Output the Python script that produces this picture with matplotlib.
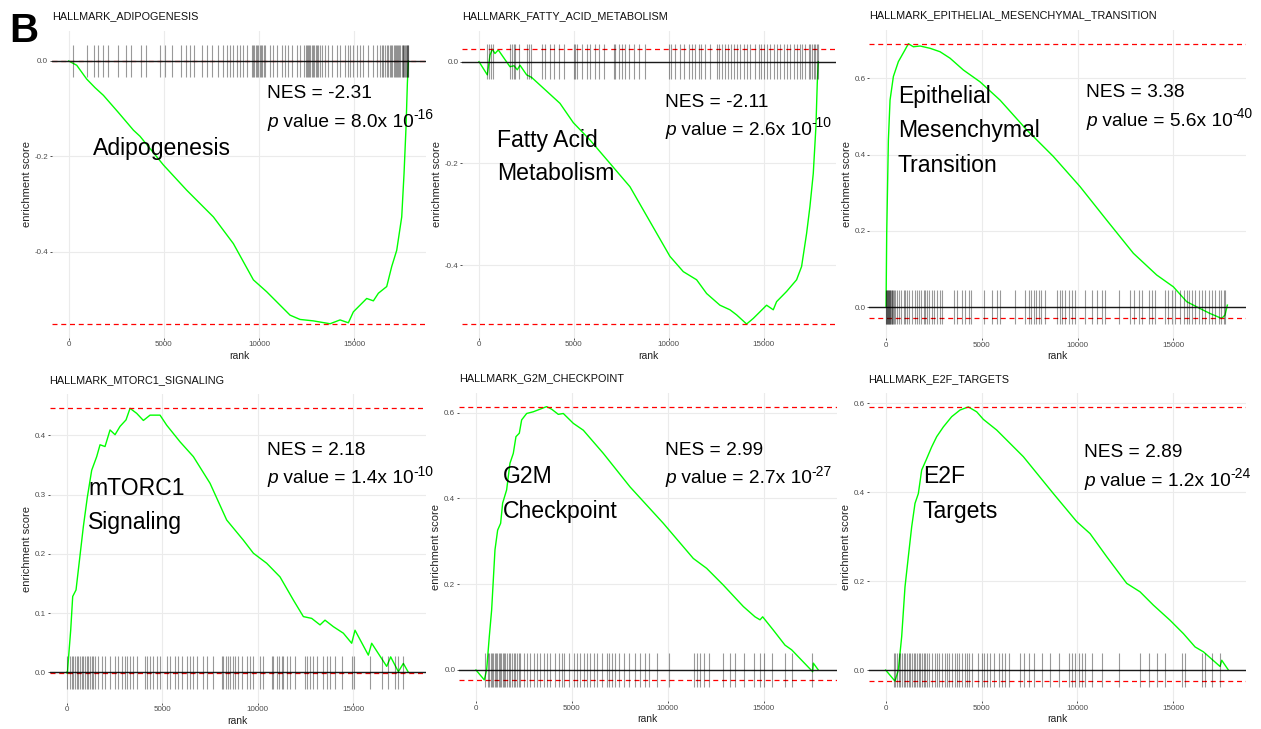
import numpy as np
import matplotlib
matplotlib.use("Agg")
from matplotlib import pyplot as plt
from matplotlib.ticker import MultipleLocator, FormatStrFormatter

W, H = 1261, 729
N_GENES = 17900

# ---- data ------------------------------------------------------------------
titles = ["HALLMARK_ADIPOGENESIS", "HALLMARK_FATTY_ACID_METABOLISM",
          "HALLMARK_EPITHELIAL_MESENCHYMAL_TRANSITION", "HALLMARK_MTORC1_SIGNALING",
          "HALLMARK_G2M_CHECKPOINT", "HALLMARK_E2F_TARGETS"]
names = [["Adipogenesis"], ["Fatty Acid", "Metabolism"],
         ["Epithelial", "Mesenchymal", "Transition"], ["mTORC1", "Signaling"],
         ["G2M", "Checkpoint"], ["E2F", "Targets"]]
nes = ["-2.31", "-2.11", "3.38", "2.18", "2.99", "2.89"]
p_mant = ["8.0", "2.6", "5.6", "1.4", "2.7", "1.2"]
p_exp = ["-16", "-10", "-40", "-10", "-27", "-24"]
y_steps = [0.2, 0.2, 0.2, 0.1, 0.2, 0.2]

# running enrichment score curves (rank, ES)
adipo_rank = [0, 280, 421, 946, 1384, 1823, 2611, 3400, 3750, 4977, 6204, 7606, 8657,
              9709, 10410, 10936, 11637, 12162, 12863, 13740, 14265, 14703, 14966,
              15317, 15667, 16018, 16281, 16719, 16982, 17245, 17508, 17630, 17735,
              17805, 17858]
adipo_es = [0, -0.006, -0.009, -0.038, -0.056, -0.072, -0.108, -0.145, -0.158, -0.218,
            -0.271, -0.327, -0.383, -0.459, -0.484, -0.505, -0.533, -0.542, -0.545,
            -0.551, -0.543, -0.549, -0.526, -0.512, -0.498, -0.503, -0.487, -0.473,
            -0.431, -0.397, -0.327, -0.236, -0.138, -0.047, 0.0]

fatty_rank = [0, 439, 580, 702, 843, 1018, 1633, 1844, 2019, 2160, 2511, 2774, 3389,
              4267, 4970, 5847, 7955, 10062, 10765, 11467, 11994, 12696, 13223, 13574,
              14101, 14452, 15154, 15505, 15681, 16207, 16734, 16997, 17261, 17437,
              17613, 17753, 17823, 17876]
fatty_es = [0, -0.026, 0.013, 0.0244, 0.016, 0.023, -0.010, -0.008, -0.016, -0.007,
            -0.026, -0.031, -0.052, -0.082, -0.120, -0.154, -0.246, -0.383, -0.413,
            -0.429, -0.456, -0.479, -0.488, -0.498, -0.516, -0.505, -0.479, -0.488,
            -0.472, -0.452, -0.429, -0.403, -0.338, -0.285, -0.220, -0.128, -0.043, 0.0]

emt_rank = [0, 35, 122, 209, 383, 644, 992, 1166, 1427, 1775, 2297, 2819, 3342, 4038,
            4908, 5952, 7344, 8737, 10129, 11521, 12914, 14132, 15002, 15698, 16394,
            16917, 17526, 17700, 17822]
emt_es = [0, 0.193, 0.438, 0.543, 0.605, 0.644, 0.675, 0.691, 0.683, 0.685, 0.679,
          0.670, 0.653, 0.622, 0.591, 0.543, 0.465, 0.395, 0.316, 0.228, 0.141, 0.084,
          0.053, 0.014, -0.004, -0.017, -0.030, -0.021, 0.005]

mtor_rank = [0, 35, 87, 209, 314, 488, 628, 872, 1082, 1308, 1570, 1745, 2006, 2268,
             2530, 2791, 3105, 3315, 3664, 4013, 4362, 4885, 5234, 5932, 6629, 7502,
             8374, 9246, 9770, 10468, 11165, 11863, 12387, 12823, 13259, 13520, 13957,
             14480, 14916, 15090, 15788, 15963, 16748, 16957, 17359, 17620, 17882]
mtor_es = [0, -0.002, 0.021, 0.071, 0.128, 0.139, 0.178, 0.246, 0.296, 0.341, 0.364,
           0.384, 0.381, 0.409, 0.401, 0.415, 0.426, 0.4455, 0.437, 0.425, 0.434, 0.434,
           0.417, 0.389, 0.364, 0.319, 0.257, 0.223, 0.201, 0.184, 0.161, 0.122, 0.094,
           0.091, 0.080, 0.088, 0.077, 0.066, 0.049, 0.071, 0.029, 0.049, 0.010, 0.026,
           0.001, 0.015, 0.0]

g2m_rank = [0, 434, 556, 695, 817, 991, 1130, 1286, 1390, 1599, 1773, 1946, 2085, 2259,
            2381, 2642, 2989, 3337, 3684, 3945, 4293, 4553, 5075, 5596, 6639, 8029,
            9767, 11331, 12026, 12895, 13938, 14546, 14807, 14946, 15502, 16110, 16458,
            17553, 17588, 17848]
g2m_es = [0, -0.023, 0.0, 0.078, 0.140, 0.280, 0.326, 0.342, 0.389, 0.420, 0.482,
          0.505, 0.544, 0.552, 0.583, 0.598, 0.602, 0.608, 0.614, 0.608, 0.596, 0.598,
          0.575, 0.559, 0.505, 0.427, 0.342, 0.260, 0.237, 0.198, 0.148, 0.124, 0.117,
          0.124, 0.093, 0.058, 0.047, -0.004, 0.016, 0.0]

e2f_rank = [0, 487, 661, 835, 1008, 1182, 1356, 1530, 1704, 1878, 2104, 2399, 2660,
            3008, 3442, 3877, 4312, 4746, 5094, 5789, 7180, 8745, 9962, 10658, 11527,
            12570, 13265, 13961, 14830, 15525, 16134, 16569, 17438, 17525, 17872]
e2f_es = [0, -0.025, 0.0, 0.075, 0.187, 0.255, 0.322, 0.375, 0.397, 0.450, 0.472,
          0.502, 0.525, 0.547, 0.570, 0.585, 0.592, 0.581, 0.564, 0.540, 0.480, 0.397,
          0.334, 0.307, 0.255, 0.195, 0.176, 0.146, 0.112, 0.082, 0.052, 0.041, 0.008,
          0.022, 0.0]

# ranks of the pathway genes (barcode ticks)
adipo_hits = [240, 980, 1350, 1560, 1790, 2080, 2610, 3010, 3280, 3780, 4050, 4800, 5060,
              5450, 5900, 6150, 6380, 6600, 6990, 7250, 7520, 7870, 8130, 8300, 8480,
              8660, 8830, 9010, 9180, 9360, 9620, 9690, 9760, 9830, 9900, 9970, 10040,
              10110, 10180, 10250, 10320, 10580, 10760, 10930, 11200, 11370, 11550,
              11760, 11990, 12160, 12390, 12450, 12510, 12570, 12630, 12700, 12770,
              12840, 12910, 12980, 13050, 13120, 13200, 13300, 13480, 13650, 13830,
              14090, 14260, 14530, 14700, 14790, 14930, 15140, 15320, 15490, 15750,
              16020, 16190, 16370, 16460, 16540, 16630, 16720, 16800, 16890, 16950,
              17020, 17090, 17160, 17220, 17280, 17330, 17380, 17440, 17510, 17550,
              17590, 17640, 17680, 17720, 17770, 17800, 17830, 17860]
fatty_hits = [420, 510, 650, 720, 1650, 1740, 1830, 1910, 2130, 2530, 2620, 2760, 3320,
              3490, 3760, 3930, 4200, 4460, 4990, 5070, 5160, 5430, 5690, 5870, 6090,
              6300, 6570, 7090, 7180, 7360, 7530, 7710, 7880, 8150, 8410, 8760, 9990,
              10130, 10340, 10610, 10780, 11050, 11220, 11400, 11570, 11710, 11920,
              12190, 12540, 12630, 12800, 12980, 13120, 13290, 13420, 13590, 13770,
              13940, 14120, 14290, 14560, 14730, 14870, 15000, 15170, 15350, 15520,
              15700, 15870, 16050, 16230, 16400, 16580, 16750, 16930, 17020, 17190,
              17370, 17450, 17540, 17630, 17720, 17800, 17850]
emt_hits = [0, 20, 40, 60, 80, 100, 130, 160, 190, 220, 250, 290, 330, 380, 430, 480,
            570, 660, 800, 920, 1010, 1100, 1180, 1360, 1500, 1620, 1710, 1850, 1970,
            2050, 2140, 2260, 2400, 2490, 2660, 2840, 2920, 3530, 3710, 3970, 4140,
            4320, 4460, 5100, 5530, 5800, 5970, 6750, 7280, 7450, 7590, 7710, 7830,
            7970, 8110, 8320, 8930, 9100, 9190, 9330, 9540, 9710, 9890, 10410, 10760,
            11020, 11280, 11450, 12150, 12760, 12930, 13190, 13370, 13710, 13890,
            14060, 14550, 14720, 14930, 15110, 15370, 15540, 15720, 15800, 15980,
            16150, 16330, 16500, 16670, 16850, 17020, 17200, 17370, 17510, 17630, 17720]
mtor_hits = [30, 170, 260, 350, 430, 520, 610, 700, 780, 870, 960, 1050, 1130, 1220,
             1310, 1390, 1480, 1660, 1830, 2000, 2270, 2530, 2700, 2880, 3050, 3170,
             3310, 3490, 3660, 4100, 4190, 4360, 4530, 4710, 4880, 5230, 5410, 5670,
             5840, 6020, 6280, 6450, 6630, 6800, 7150, 7330, 7680, 8110, 8200, 8340,
             8460, 8550, 8690, 8810, 8980, 9160, 9420, 9590, 9770, 10120, 10290, 10730,
             10820, 10990, 11130, 11250, 11340, 11510, 11690, 11950, 12470, 12560,
             12730, 12910, 13080, 13430, 13610, 13780, 14040, 14390, 14910, 15040,
             15870, 16490, 16830, 17180, 17360, 17620]
g2m_hits = [490, 630, 700, 770, 830, 900, 970, 1040, 1110, 1180, 1250, 1320, 1390,
            1460, 1530, 1620, 1700, 1790, 1880, 1960, 2050, 2140, 2220, 2310, 2490,
            2660, 2830, 3010, 3180, 3350, 3530, 3700, 3880, 4140, 4310, 4480, 4570,
            4830, 5090, 5270, 5440, 5610, 5790, 5960, 6140, 6310, 6570, 6830, 6920,
            7090, 7260, 7440, 7700, 7960, 8310, 8570, 8830, 9000, 9440, 10050, 11350,
            11520, 11700, 11870, 12130, 12900, 13260, 13520, 13960, 14480, 14810,
            15000, 15430, 16110, 16460, 17540]
e2f_hits = [420, 500, 590, 680, 760, 850, 940, 1020, 1110, 1200, 1290, 1370, 1460, 1550,
            1630, 1720, 1810, 1890, 1980, 2070, 2150, 2240, 2420, 2550, 2680, 2760,
            2940, 3080, 3200, 3320, 3460, 3600, 3720, 3840, 3980, 4120, 4240, 4360,
            4500, 4810, 5020, 5110, 5280, 5460, 5630, 5890, 6070, 6240, 6410, 7020,
            7200, 7460, 7720, 8150, 8590, 9020, 9540, 9720, 9890, 10070, 10240, 10410,
            10760, 11280, 12150, 13280, 13720, 14150, 14590, 15460, 15630, 16500,
            16670, 17020, 17450]

curves = [(adipo_rank, adipo_es, adipo_hits), (fatty_rank, fatty_es, fatty_hits),
          (emt_rank, emt_es, emt_hits), (mtor_rank, mtor_es, mtor_hits),
          (g2m_rank, g2m_es, g2m_hits), (e2f_rank, e2f_es, e2f_hits)]

# ---- layout (pixels of the reference) --------------------------------------
panel_px = [(51.7, 30.6, 426.2, 337.7), (462.0, 30.5, 835.7, 338.0),
            (868.9, 29.7, 1246.0, 338.2), (49.6, 394.3, 425.8, 702.9),
            (458.8, 392.6, 836.5, 701.1), (868.5, 392.9, 1246.1, 701.2)]
name_px = [(93, 155, 0), (497, 146.7, 33.5), (898, 103.3, 34.2),
           (88, 495, 34.3), (503, 483.3, 35), (923, 483.3, 35)]
nes_px = [(267, 98.3), (665, 106.7), (1086, 97.3),
          (267, 455), (665, 455), (1084, 457.3)]

plt.rcParams['font.family'] = ['Liberation Sans', 'DejaVu Sans']
plt.rcParams['axes.unicode_minus'] = False

NAME_FS = 16.6
NES_FS = 13.8
EXP_FS = 10


def frac(x, y):
    return x / W, 1 - y / H


fig = plt.figure(figsize=(W / 100, H / 100), dpi=100)
fig.patch.set_facecolor('white')
rend = fig.canvas.get_renderer()

for i in range(6):
    x0, y0, x1, y1 = panel_px[i]
    ax = fig.add_axes([x0 / W, 1 - y1 / H, (x1 - x0) / W, (y1 - y0) / H])
    ranks, es, hits = curves[i]
    top = max(np.max(es), 0)
    bot = min(np.min(es), 0)
    half = (top - bot) / 16
    lo, hi = min(bot, -half), max(top, half)
    pad = 0.05 * (hi - lo)
    ax.set_ylim(lo - pad, hi + pad)
    ax.set_xlim(-0.05 * N_GENES, 1.05 * N_GENES)

    ax.plot(ranks, es, color='#00ff00', lw=1.0, zorder=3)
    ax.axhline(top, color='red', ls=(0, (4, 3)), lw=0.9, zorder=4)
    ax.axhline(bot, color='red', ls=(0, (4, 3)), lw=0.9, zorder=4)
    ax.axhline(0, color='#1a1a1a', lw=1.0, zorder=4)
    ax.vlines(hits, -half, half, color='black', alpha=0.4, lw=0.8, zorder=5)

    ax.grid(True, color='#ebebeb', lw=0.8, zorder=0)
    ax.set_axisbelow(True)
    for s in ax.spines.values():
        s.set_visible(False)
    ax.set_xticks([0, 5000, 10000, 15000])
    ax.yaxis.set_major_locator(MultipleLocator(y_steps[i]))
    ax.yaxis.set_major_formatter(FormatStrFormatter('%.1f'))
    ax.tick_params(labelsize=5.8, colors='#333333', labelcolor='#4d4d4d',
                   length=1.5, width=0.6, pad=1)
    ax.set_xlabel('rank', fontsize=7.5, color='#222222', labelpad=2)
    ax.set_ylabel('enrichment score', fontsize=8, color='#222222', labelpad=2)
    ax.set_title(titles[i], loc='left', fontsize=7.8, pad=8, color='#111111')

    nx, ny, step = name_px[i]
    for k, line in enumerate(names[i]):
        fig.text(*frac(nx, ny + k * step), line, fontsize=NAME_FS,
                 va='baseline', ha='left')

    ex, ey = nes_px[i]
    fig.text(*frac(ex, ey), 'NES = ' + nes[i], fontsize=NES_FS,
             va='baseline', ha='left')
    # p value line: italic p, plain text, raised exponent
    py = ey + 28.4
    t = fig.text(*frac(ex, py), 'p', fontsize=NES_FS, style='italic',
                 va='baseline', ha='left')
    bx = t.get_window_extent(rend).x1
    t = fig.text(bx / W, 1 - py / H, ' value = ' + p_mant[i] + 'x 10',
                 fontsize=NES_FS, va='baseline', ha='left')
    bx = t.get_window_extent(rend).x1
    fig.text(bx / W, 1 - (py - 7.8) / H, p_exp[i], fontsize=EXP_FS,
             va='baseline', ha='left')

fig.text(*frac(9, 41.5), 'B', fontsize=29, fontweight='bold', va='baseline',
         ha='left')

fig.savefig('out.png', dpi=100, facecolor='white')
